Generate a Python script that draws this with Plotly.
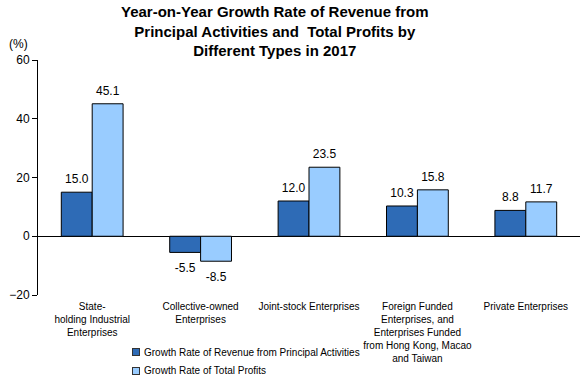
import plotly.graph_objects as go

categories = [
    "State-<br>holding Industrial<br>Enterprises",
    "Collective-owned<br>Enterprises",
    "Joint-stock Enterprises",
    "Foreign Funded<br>Enterprises, and<br>Enterprises Funded<br>from Hong Kong, Macao<br>and Taiwan",
    "Private Enterprises",
]
revenue_growth = [15.0, -5.5, 12.0, 10.3, 8.8]
profit_growth = [45.1, -8.5, 23.5, 15.8, 11.7]
series_names = ["Growth Rate of Revenue from Principal Activities", "Growth Rate of Total Profits"]
y_ticks = [-20, 0, 20, 40, 60]

dark = "#2E6BB6"
light = "#99CCFF"
font = "Arial, Liberation Sans, sans-serif"

fig = go.Figure()
for i, (vals, col, name) in enumerate([(revenue_growth, dark, series_names[0]),
                                       (profit_growth, light, series_names[1])]):
    fig.add_trace(go.Bar(
        x=categories, y=vals, name=name, showlegend=False, offsetgroup=str(i),
        marker=dict(color=col, line=dict(color="black", width=1)),
    ))
for i, vals in enumerate([revenue_growth, profit_growth]):
    fig.add_trace(go.Scatter(
        x=categories, y=vals, mode="markers+text", offsetgroup=str(i), showlegend=False,
        marker=dict(size=[8 if v >= 0 else 16 for v in vals], opacity=0),
        text=[f"{v:.1f}" for v in vals],
        textposition=["top center" if v >= 0 else "bottom center" for v in vals],
        textfont=dict(size=12, color="black", family=font),
        cliponaxis=False, hoverinfo="skip",
    ))

fig.update_layout(
    width=584, height=380,
    margin=dict(l=38, r=4, t=60, b=85, autoexpand=False),
    plot_bgcolor="white", paper_bgcolor="white",
    barmode="group", bargap=0.43, bargroupgap=0,
    scattermode="group", scattergap=0.43,
    font=dict(family=font, color="black"),
    showlegend=False,
)
fig.update_yaxes(
    range=[-20, 60], tickvals=y_ticks, ticks="outside", ticklen=5, tickcolor="black",
    showline=True, linecolor="black", linewidth=1, showgrid=False,
    zeroline=True, zerolinecolor="black", zerolinewidth=1,
    tickfont=dict(size=12, family=font),
)
fig.update_xaxes(
    showline=False, showgrid=False, ticks="", tickfont=dict(size=10, family=font),
    tickangle=0, ticklabelstandoff=4,
)

# title
fig.add_annotation(
    text="<b>Year-on-Year Growth Rate of Revenue from<br>Principal Activities and  Total Profits by<br>Different Types in 2017</b>",
    x=0.438, y=1.1234, xref="paper", yref="paper", xanchor="center", yanchor="middle",
    showarrow=False, font=dict(size=15, family=font, color="black"),
)
# unit label
fig.add_annotation(text="(%)", x=0, y=1, xref="paper", yref="paper", xshift=-20, yshift=16,
                   showarrow=False, xanchor="center", yanchor="middle", font=dict(size=12, family=font))

# custom legend
legend_y = [-0.2426, -0.3234]
for name, col, ly in zip(series_names, [dark, light], legend_y):
    fig.add_annotation(text=" ", x=0.1808, y=ly, xref="paper", yref="paper", showarrow=False,
                       xanchor="center", yanchor="middle", width=6, height=6,
                       bgcolor=col, bordercolor="#333333", borderwidth=1, borderpad=0,
                       font=dict(size=4))
    fig.add_annotation(text=name, x=0.1919, y=ly, xref="paper", yref="paper", showarrow=False,
                       xanchor="left", yanchor="middle", font=dict(size=10, family=font))

fig.write_html("out.html", config={"displayModeBar": False},
               post_script="document.body.style.margin='0';document.body.style.overflow='hidden';")
